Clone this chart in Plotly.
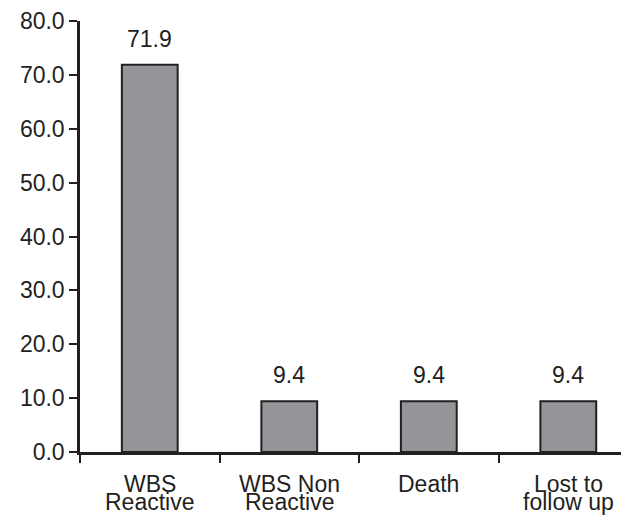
import plotly.graph_objects as go

categories = ["WBS Reactive", "WBS Non Reactive", "Death", "Lost to follow up"]
label_line1 = ["WBS", "WBS Non", "Death", "Lost to"]
label_line2 = ["Reactive", "Reactive", "", "follow up"]
values = [71.9, 9.4, 9.4, 9.4]
y_ticks = [0, 10, 20, 30, 40, 50, 60, 70, 80]

dark = "#231f20"
FONT = "Liberation Sans, Arial, Helvetica"
FS = 23
fig = go.Figure()
fig.add_trace(go.Bar(
    x=categories, y=values, width=0.4,
    marker=dict(color="#939598", line=dict(color=dark, width=2)),
    hoverinfo="skip",
))
for c, v in zip(categories, values):
    fig.add_annotation(x=c, y=v, text=f"{v:.1f}", showarrow=False,
                       yanchor="bottom", yshift=11,
                       font=dict(family=FONT, size=FS, color=dark))
for c, l1, l2 in zip(categories, label_line1, label_line2):
    fig.add_annotation(x=c, xref="x", y=0, yref="paper", text=l1, showarrow=False,
                       yanchor="middle", yshift=-32,
                       font=dict(family=FONT, size=FS, color=dark))
    if l2:
        fig.add_annotation(x=c, xref="x", y=0, yref="paper", text=l2, showarrow=False,
                           yanchor="middle", yshift=-50,
                           font=dict(family=FONT, size=FS, color=dark))

fig.update_layout(
    width=621, height=512,
    margin=dict(l=72, r=0, t=7, b=68),
    plot_bgcolor="white", paper_bgcolor="white",
    showlegend=False,
    font=dict(family=FONT, size=FS, color=dark),
)
fig.update_xaxes(
    type="category", range=[-0.5, 3.435],
    tickmode="array", tickvals=categories, ticktext=["", "", "", ""],
    tickson="boundaries", ticks="outside", ticklen=8, tickwidth=2, tickcolor=dark,
    showline=True, linecolor=dark, linewidth=2.5, showgrid=False, zeroline=False,
)
fig.update_yaxes(
    range=[0, 80], tickvals=y_ticks, ticktext=[f"{t:.1f}" for t in y_ticks],
    ticks="outside", ticklen=8, tickwidth=2, tickcolor=dark,
    showline=True, linecolor=dark, linewidth=2.5, showgrid=False, zeroline=False,
    tickfont=dict(family=FONT, size=FS, color=dark),
    ticklabeloverflow="allow",
)
fig.write_html("out.html")
